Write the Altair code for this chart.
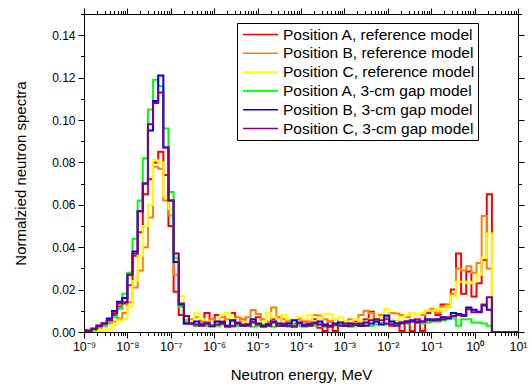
import altair as alt
import numpy as np
import pandas as pd

SERIES = [
    "Position A, reference model",
    "Position B, reference model",
    "Position C, reference model",
    "Position A, 3-cm gap model",
    "Position B, 3-cm gap model",
    "Position C, 3-cm gap model",
]
COLORS = ["#FF0000", "#FF8000", "#FFFF00", "#00FF00", "#0000FF", "#800080"]

# energy group structure (log10 of first lower edge, log10 width), 80 groups
LOG_E_FIRST = -9.065
LOG_E_STEP = 0.1183
N_GROUPS = 80
E_AXIS_END = 10.0

A_REF = [0.0005, 0.0008, 0.0015, 0.003, 0.004, 0.005, 0.008, 0.012, 0.0135, 0.022, 0.036, 0.047, 0.065, 0.072, 0.080, 0.085, 0.074, 0.050, 0.019, 0.008, 0.004,
         0.004, 0.003, 0.005, 0.009, 0.006, 0.008, 0.005, 0.009, 0.009, 0.004, 0.006, 0.004, 0.005, 0.007, 0.003, 0.004, 0.006, 0.007, 0.004, 0.005,
         0.003, 0.006, 0.005, 0.004, 0.006, 0.002, 0.0005, 0.005, 0.0005, 0.004, 0.003, 0.004, 0.005, 0.003, 0.006, 0.0096, 0.005, 0.004, 0.006, 0.003,
         0.005, 0.0005, 0.005, 0.0005, 0.006,
         0.0005, 0.009, 0.010, 0.008, 0.013, 0.012, 0.020, 0.037, 0.018, 0.0285, 0.0167, 0.023, 0.034, 0.065]
B_REF = [0.0003, 0.0005, 0.001, 0.002, 0.003, 0.004, 0.005, 0.0065, 0.009, 0.014, 0.021, 0.029, 0.040, 0.054, 0.078, 0.077, 0.062, 0.055, 0.027, 0.012, 0.006,
         0.006, 0.007, 0.005, 0.004, 0.006, 0.005, 0.007, 0.006, 0.005, 0.007, 0.006, 0.007, 0.0104, 0.0085, 0.006, 0.005, 0.0115, 0.007, 0.006, 0.005,
         0.004, 0.006, 0.005, 0.005, 0.008, 0.0078, 0.006, 0.005, 0.006, 0.004, 0.005, 0.006, 0.004, 0.008, 0.010, 0.009, 0.006, 0.008, 0.007, 0.009,
         0.0087, 0.008, 0.007, 0.009, 0.008,
         0.008, 0.010, 0.011, 0.009, 0.012, 0.013, 0.018, 0.030, 0.029, 0.031, 0.028, 0.0325, 0.0547, 0.030]
C_REF = [0.0, 0.0002, 0.0003, 0.0005, 0.001, 0.0012, 0.0035, 0.0055, 0.006, 0.012, 0.024, 0.036, 0.050, 0.060, 0.081, 0.080, 0.064, 0.058, 0.034, 0.017, 0.0065,
         0.005, 0.009, 0.006, 0.004, 0.005, 0.003, 0.008, 0.009, 0.006, 0.004, 0.005, 0.004, 0.006, 0.004, 0.005, 0.009, 0.007, 0.004, 0.008, 0.006,
         0.005, 0.007, 0.006, 0.008, 0.005, 0.006, 0.0085, 0.0085, 0.006, 0.007, 0.005, 0.004, 0.006, 0.005, 0.004, 0.006, 0.005, 0.007, 0.011, 0.006,
         0.005, 0.007, 0.008, 0.009, 0.008,
         0.009, 0.010, 0.010, 0.011, 0.010, 0.012, 0.017, 0.0237, 0.0237, 0.023, 0.0237, 0.027, 0.035, 0.0465]
A_GAP = [0.0005, 0.0005, 0.001, 0.0025, 0.003, 0.005, 0.007, 0.011, 0.018, 0.028, 0.044, 0.062, 0.082, 0.105, 0.119, 0.116, 0.096, 0.066, 0.035, 0.012, 0.005,
         0.004, 0.003, 0.0035, 0.003, 0.0025, 0.003, 0.0035, 0.003, 0.0025, 0.003, 0.003, 0.0035, 0.0025, 0.003, 0.0035, 0.003, 0.0025, 0.003, 0.003, 0.0025,
         0.0035, 0.003, 0.0025, 0.003, 0.003, 0.0035, 0.0025, 0.003, 0.003, 0.0035, 0.003, 0.0025, 0.003, 0.0035, 0.003, 0.003, 0.0035, 0.004, 0.0035, 0.004,
         0.004, 0.0045, 0.004, 0.005, 0.0045,
         0.004, 0.0045, 0.005, 0.005, 0.0055, 0.006, 0.0065, 0.003, 0.006, 0.006, 0.0045, 0.0045, 0.004, 0.003]
B_GAP = [0.0008, 0.0005, 0.0015, 0.003, 0.004, 0.0064, 0.0099, 0.0143, 0.016, 0.027, 0.038, 0.057, 0.070, 0.095, 0.109, 0.121, 0.087, 0.062, 0.033, 0.013, 0.004,
         0.004, 0.005, 0.0035, 0.004, 0.003, 0.005, 0.0045, 0.003, 0.0055, 0.004, 0.003, 0.0035, 0.006, 0.004, 0.003, 0.0035, 0.005, 0.004, 0.003, 0.004,
         0.0055, 0.0045, 0.003, 0.0035, 0.004, 0.005, 0.0035, 0.003, 0.004, 0.0045, 0.003, 0.004, 0.0035, 0.003, 0.0045, 0.004, 0.005, 0.0035, 0.0078, 0.005,
         0.004, 0.0045, 0.005, 0.0055, 0.005,
         0.005, 0.006, 0.0055, 0.006, 0.007, 0.0065, 0.009, 0.0085, 0.008, 0.0115, 0.0105, 0.0095, 0.0125, 0.0105]
C_GAP = [0.0005, 0.0005, 0.0015, 0.003, 0.004, 0.0057, 0.0088, 0.0135, 0.014, 0.027, 0.037, 0.057, 0.070, 0.098, 0.108, 0.113, 0.087, 0.062, 0.037, 0.0135, 0.0075,
         0.004, 0.0035, 0.003, 0.0045, 0.003, 0.0035, 0.004, 0.0025, 0.003, 0.0045, 0.0035, 0.003, 0.0045, 0.0035, 0.0025, 0.003, 0.0045, 0.003, 0.0035, 0.003,
         0.0025, 0.004, 0.0035, 0.003, 0.0045, 0.0035, 0.003, 0.0025, 0.0035, 0.003, 0.004, 0.003, 0.0035, 0.004, 0.003, 0.0055, 0.006, 0.0055, 0.004, 0.0035,
         0.003, 0.004, 0.0045, 0.005, 0.0045,
         0.005, 0.0055, 0.006, 0.0055, 0.006, 0.007, 0.0075, 0.008, 0.0075, 0.0107, 0.0093, 0.0093, 0.013, 0.0164]

VALUES = [A_REF, B_REF, C_REF, A_GAP, B_GAP, C_GAP]
for v in VALUES:
    assert len(v) == N_GROUPS, len(v)

X_MAJOR = [1e-9, 1e-8, 1e-7, 1e-6, 1e-5, 1e-4, 1e-3, 1e-2, 1e-1, 1e0, 1e1]
X_MINOR = [m * 10.0 ** p for p in range(-9, 1) for m in range(2, 10)]
Y_MAJOR = [0.00, 0.02, 0.04, 0.06, 0.08, 0.10, 0.12, 0.14]
Y_MINOR = [0.01, 0.03, 0.05, 0.07, 0.09, 0.11, 0.13, 0.15]

edges = 10.0 ** (LOG_E_FIRST + LOG_E_STEP * np.arange(N_GROUPS + 1))
rows = []
for name, vals in zip(SERIES, VALUES):
    for k, val in enumerate(vals):
        rows.append({"series": name, "E": float(edges[k]), "v": val, "o": k})
    rows.append({"series": name, "E": float(edges[N_GROUPS]), "v": 0.0, "o": N_GROUPS})
    rows.append({"series": name, "E": E_AXIS_END, "v": 0.0, "o": N_GROUPS + 1})
df = pd.DataFrame(rows)

xscale = alt.Scale(type="log", domain=[1e-9, 10], nice=False)
yscale = alt.Scale(domain=[0, 0.15], nice=False, zero=True)
cscale = alt.Scale(domain=SERIES, range=COLORS)

LABEL_EXPR = ("'10' + (datum.value < 0.5 ? '\u207b' : '') + "
              "['\u2070','\u00b9','\u00b2','\u00b3','\u2074','\u2075','\u2076','\u2077','\u2078','\u2079']"
              "[abs(round(log(datum.value)/LN10))]")

dummy = pd.DataFrame({"E": [1e-3], "v": [0.05]})


def axis_layer(xaxis, yaxis):
    return alt.Chart(dummy).mark_point(opacity=0).encode(
        x=alt.X("E:Q", scale=xscale, axis=xaxis),
        y=alt.Y("v:Q", scale=yscale, axis=yaxis),
    )


common = dict(grid=False, tickColor="black", tickWidth=1, domainColor="black", domainWidth=1,
              labelFlush=False, labelOverlap=False)

ax1 = axis_layer(
    alt.Axis(orient="bottom", values=X_MAJOR, labelExpr=LABEL_EXPR, tickSize=6, labelFontSize=12.5,
             labelPadding=2, title="Neutron energy, MeV", titleFontSize=15, titlePadding=15,
             titleFontWeight="normal", domain=True, **common),
    alt.Axis(orient="left", values=Y_MAJOR, format=".2f", tickSize=6, labelFontSize=12, labelPadding=3,
             title="Normalzied neutron spectra", titleFontSize=15, titlePadding=23,
             titleFontWeight="normal", domain=True, **common),
)
ax2 = axis_layer(
    alt.Axis(orient="bottom", values=X_MINOR, labels=False, tickSize=3.5, domain=False, title=None, **common),
    alt.Axis(orient="left", values=Y_MINOR, labels=False, tickSize=3.5, domain=False, title=None, **common),
)
ax3 = axis_layer(
    alt.Axis(orient="top", values=X_MAJOR, labels=False, tickSize=6, domain=True, title=None, **common),
    alt.Axis(orient="right", values=Y_MAJOR, labels=False, tickSize=6, domain=True, title=None, **common),
)
ax4 = axis_layer(
    alt.Axis(orient="top", values=X_MINOR, labels=False, tickSize=3.5, domain=False, title=None, **common),
    alt.Axis(orient="right", values=Y_MINOR, labels=False, tickSize=3.5, domain=False, title=None, **common),
)

# horizontal line symbol, longer than the legend row height
LEGEND_LINE = "M-0.733,0H3.933"

legend = alt.Legend(
    title=None, orient="none", legendX=153, legendY=9, symbolType=LEGEND_LINE, symbolSize=225,
    symbolStrokeWidth=1.6, labelFontSize=15.5, labelLimit=400, labelOffset=26, rowPadding=1.8,
    padding=3, strokeColor="black", fillColor="white", labelColor="black",
)

line_layers = []
for name in SERIES:
    line_layers.append(
        alt.Chart(df).transform_filter(alt.datum.series == name)
        .mark_line(interpolate="step-after", strokeWidth=2, clip=True)
        .encode(
            x=alt.X("E:Q", scale=xscale, axis=None),
            y=alt.Y("v:Q", scale=yscale, axis=None),
            color=alt.Color("series:N", scale=cscale, legend=legend),
            order=alt.Order("o:Q"),
        )
    )

chart = (
    alt.layer(ax1, ax2, ax3, ax4, *line_layers)
    .resolve_axis(x="independent", y="independent")
    .properties(width=434, height=318, autosize=alt.AutoSizeParams(type="none"),
                padding={"left": 84, "top": 14, "right": 11, "bottom": 55})
    .configure(font="Liberation Sans")
    .configure_view(stroke=None)
    .configure_axis(labelColor="black", titleColor="black", labelFont="Liberation Sans",
                    titleFont="Liberation Sans")
    .configure_legend(labelFont="Liberation Sans")
)

chart.save("out.html", embed_options={"renderer": "svg", "actions": False})
